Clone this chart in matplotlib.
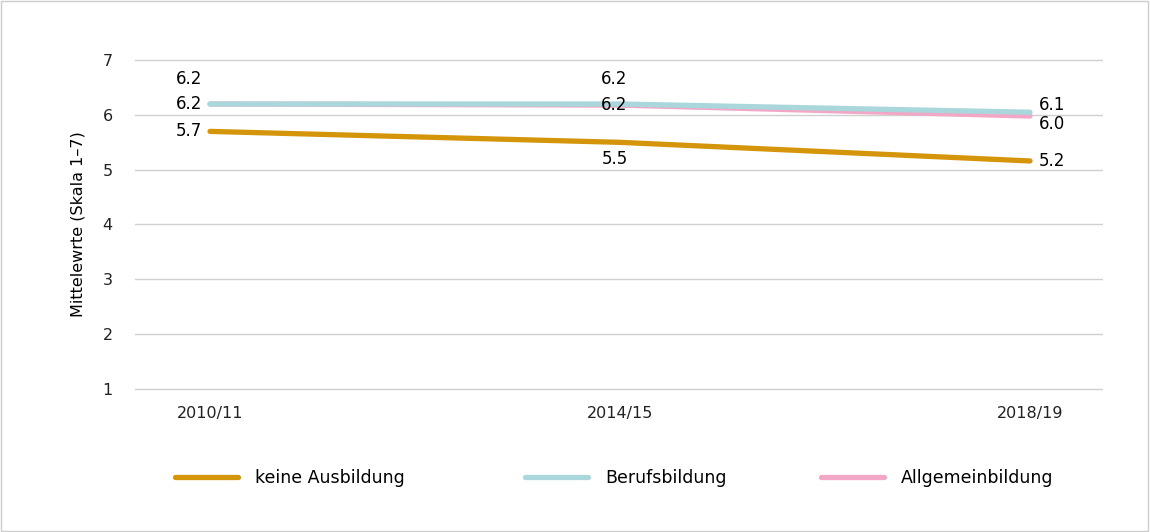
import numpy as np
import matplotlib.pyplot as plt

years = ["2010/11", "2014/15", "2018/19"]
keine = [5.7, 5.5, 5.16]
beruf = [6.2, 6.2, 6.05]
allgemein = [6.2, 6.18, 5.98]

keine_labels = ["5.7", "5.5", "5.2"]
beruf_labels = ["6.2", "6.2", "6.1"]
allg_labels = ["6.2", "6.2", "6.0"]

c_keine = "#D4950A"
c_beruf = "#A9D7DB"
c_allg = "#F2A7C6"

fig = plt.figure(figsize=(11.5, 5.32), dpi=100)
ax = fig.add_axes([135 / 1150, 1 - 391 / 532, (1103 - 135) / 1150, (391 - 58) / 532])

x = np.arange(len(years))
l_allg, = ax.plot(x, allgemein, color=c_allg, lw=3.8, solid_capstyle="round", label="Allgemeinbildung", zorder=3)
l_beruf, = ax.plot(x, beruf, color=c_beruf, lw=3.8, solid_capstyle="round", label="Berufsbildung", zorder=4)
l_keine, = ax.plot(x, keine, color=c_keine, lw=3.8, solid_capstyle="round", label="keine Ausbildung", zorder=5)

ax.set_xlim(-0.183, 2.178)
ax.set_ylim(0.96, 7.04)
ax.set_yticks(range(1, 8))
ax.set_xticks(x)
ax.set_xticklabels(years)
ax.grid(axis="y", color="#d0d0d0", lw=1)
ax.set_axisbelow(True)
for s in ax.spines.values():
    s.set_visible(False)
ax.tick_params(length=0, labelsize=11.5, colors="#222222")
ax.tick_params(axis="x", pad=11)
ax.tick_params(axis="y", pad=16)
ax.set_ylabel("Mittelewrte (Skala 1–7)", fontsize=11.5, labelpad=12)

fs = 12
# data labels
ax.annotate(beruf_labels[0], (0, beruf[0]), xytext=(-15, 18), textcoords="offset points", ha="center", va="center", fontsize=fs)
ax.annotate(allg_labels[0], (0, allgemein[0]), xytext=(-15, 0), textcoords="offset points", ha="center", va="center", fontsize=fs)
ax.annotate(keine_labels[0], (0, keine[0]), xytext=(-15, 0), textcoords="offset points", ha="center", va="center", fontsize=fs)

ax.annotate(beruf_labels[1], (1, beruf[1]), xytext=(-4, 18), textcoords="offset points", ha="center", va="center", fontsize=fs)
ax.annotate(allg_labels[1], (1, allgemein[1]), xytext=(-4, 0), textcoords="offset points", ha="center", va="center", fontsize=fs, zorder=6)
ax.annotate(keine_labels[1], (1, keine[1]), xytext=(-4, -12), textcoords="offset points", ha="center", va="center", fontsize=fs)

ax.annotate(beruf_labels[2], (2, beruf[2]), xytext=(16, 5), textcoords="offset points", ha="center", va="center", fontsize=fs)
ax.annotate(allg_labels[2], (2, allgemein[2]), xytext=(16, -6), textcoords="offset points", ha="center", va="center", fontsize=fs)
ax.annotate(keine_labels[2], (2, keine[2]), xytext=(16, 0), textcoords="offset points", ha="center", va="center", fontsize=fs)

# legend entries placed individually
leg_y = 1 - 478 / 532
for h, xl in [(l_keine, 175), (l_beruf, 525), (l_allg, 821)]:
    lg = fig.legend([h], [h.get_label()], loc="center left", bbox_to_anchor=(xl / 1150, leg_y),
                    frameon=False, fontsize=12.5, handlelength=3.6, handletextpad=1.0,
                    borderpad=0, borderaxespad=0)

fig.patches.append(plt.Rectangle((0.001, 0.002), 0.997, 0.996, transform=fig.transFigure,
                                 fill=False, edgecolor="#cccccc", lw=1))

fig.savefig("out.png", dpi=100)
